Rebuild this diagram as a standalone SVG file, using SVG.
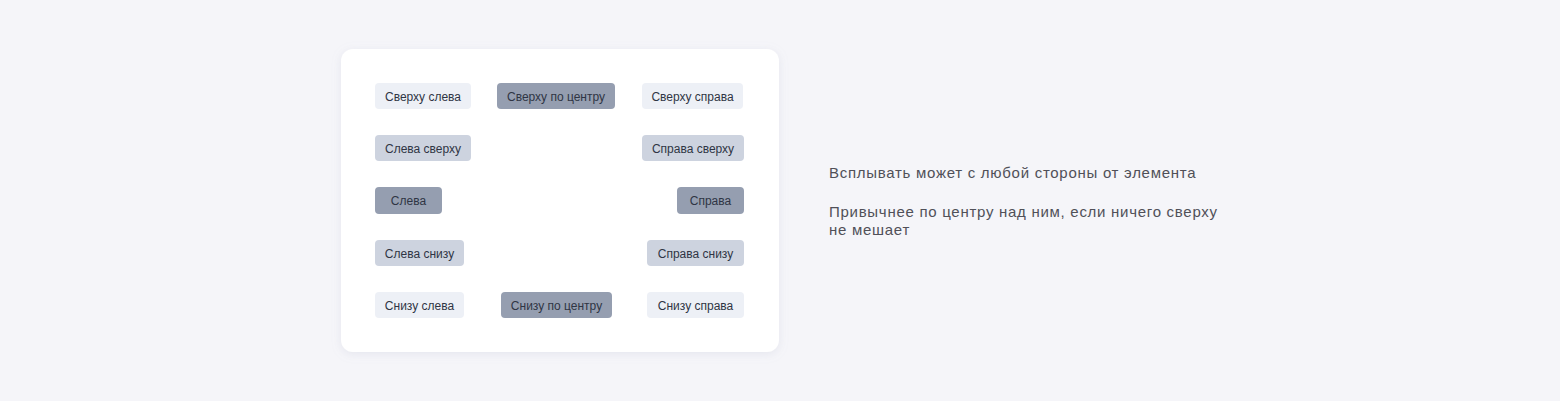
<svg xmlns="http://www.w3.org/2000/svg" width="1560" height="401" viewBox="0 0 1560 401">
<defs>
<filter id="sh" x="-10%" y="-10%" width="120%" height="125%">
<feDropShadow dx="0" dy="2" stdDeviation="5" flood-color="#9aa0b8" flood-opacity="0.18"/>
</filter>
<style>
.b1{fill:#edf0f6}
.b2{fill:#cdd3df}
.b3{fill:#959eb0}
.bt{font-family:"Liberation Sans",Arial,sans-serif;font-size:12px;fill:#2f3544;text-anchor:middle}
.d{font-family:"Liberation Sans",Arial,sans-serif;font-size:15px;letter-spacing:0.72px;fill:#505058}
</style>
</defs>
<rect width="1560" height="401" fill="#f5f5f9"/>
<g id="card"><rect x="341" y="49" width="438" height="303" rx="12" fill="#ffffff" filter="url(#sh)"/></g>
<g id="n1"><rect class="b1" x="375" y="83" width="96" height="26" rx="4"/><text class="bt" x="423" y="100.5">Сверху слева</text></g>
<g id="n2"><rect class="b3" x="497" y="83" width="118" height="26" rx="4"/><text class="bt" x="556" y="100.5">Сверху по центру</text></g>
<g id="n3"><rect class="b1" x="642" y="83" width="101" height="26" rx="4"/><text class="bt" x="692.5" y="100.5">Сверху справа</text></g>
<g id="n4"><rect class="b2" x="375" y="135" width="96" height="26" rx="4"/><text class="bt" x="423" y="152.5">Слева сверху</text></g>
<g id="n5"><rect class="b2" x="642" y="135" width="102" height="26" rx="4"/><text class="bt" x="693" y="152.5">Справа сверху</text></g>
<g id="n6"><rect class="b3" x="375" y="187" width="67" height="27" rx="4"/><text class="bt" x="408.5" y="205">Слева</text></g>
<g id="n7"><rect class="b3" x="677" y="187" width="67" height="27" rx="4"/><text class="bt" x="710.5" y="205">Справа</text></g>
<g id="n8"><rect class="b2" x="375" y="240" width="89" height="26" rx="4"/><text class="bt" x="419.5" y="257.5">Слева снизу</text></g>
<g id="n9"><rect class="b2" x="647" y="240" width="97" height="26" rx="4"/><text class="bt" x="695.5" y="257.5">Справа снизу</text></g>
<g id="n10"><rect class="b1" x="375" y="292" width="89" height="26" rx="4"/><text class="bt" x="419.5" y="309.5">Снизу слева</text></g>
<g id="n11"><rect class="b3" x="501" y="292" width="111" height="26" rx="4"/><text class="bt" x="556.5" y="309.5">Снизу по центру</text></g>
<g id="n12"><rect class="b1" x="647" y="292" width="97" height="26" rx="4"/><text class="bt" x="695.5" y="309.5">Снизу справа</text></g>
<g id="connectors"></g>
<g id="desc">
<text class="d" x="829" y="178">Всплывать может с любой стороны от элемента</text>
<text class="d" x="829" y="217">Привычнее по центру над ним, если ничего сверху</text>
<text class="d" x="829" y="235">не мешает</text>
</g>
</svg>
